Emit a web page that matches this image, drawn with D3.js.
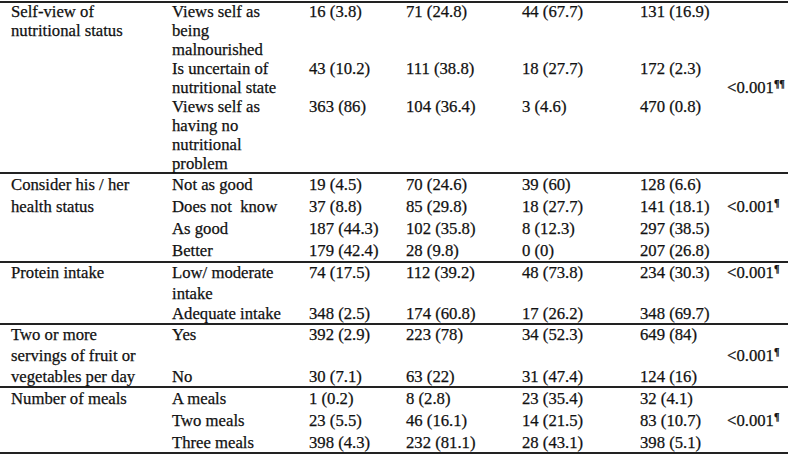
<!DOCTYPE html>
<html>
<head>
<meta charset="utf-8">
<script src="https://cdn.jsdelivr.net/npm/d3@7"></script>
<style>
    html, body { margin: 0; padding: 0; background: #fff; }
    svg { display: block; }
    text { font-family: "Liberation Serif", "Times New Roman", Tinos, "DejaVu Serif", serif; font-size: 16.7px; }
</style>
</head>
<body>
<svg id="chart"></svg>
<script>
const groups = [
    "Self-view of\nnutritional status",
    "Consider his / her\nhealth status",
    "Protein intake",
    "Two or more\nservings of fruit or\nvegetables per day",
    "Number of meals"
];
const rowLabels = [
    ["Views self as\nbeing\nmalnourished", "Is uncertain of\nnutritional state", "Views self as\nhaving no\nnutritional\nproblem"],
    ["Not as good", "Does not  know", "As good", "Better"],
    ["Low/ moderate\nintake", "Adequate intake"],
    ["Yes", "No"],
    ["A meals", "Two meals", "Three meals"]
];
const countsA = [16, 43, 363, 19, 37, 187, 179, 74, 348, 392, 30, 1, 23, 398];
const pctA = [3.8, 10.2, 86, 4.5, 8.8, 44.3, 42.4, 17.5, 2.5, 2.9, 7.1, 0.2, 5.5, 4.3];
const countsB = [71, 111, 104, 70, 85, 102, 28, 112, 174, 223, 63, 8, 46, 232];
const pctB = [24.8, 38.8, 36.4, 24.6, 29.8, 35.8, 9.8, 39.2, 60.8, 78, 22, 2.8, 16.1, 81.1];
const countsC = [44, 18, 3, 39, 18, 8, 0, 48, 17, 34, 31, 23, 14, 28];
const pctC = [67.7, 27.7, 4.6, 60, 27.7, 12.3, 0, 73.8, 26.2, 52.3, 47.4, 35.4, 21.5, 43.1];
const countsD = [131, 172, 470, 128, 141, 297, 207, 234, 348, 649, 124, 32, 83, 398];
const pctD = [16.9, 2.3, 0.8, 6.6, 18.1, 38.5, 26.8, 30.3, 69.7, 84, 16, 4.1, 10.7, 5.1];
const pValues = ["<0.001", "<0.001", "<0.001", "<0.001", "<0.001"];
const pMarks = ["\u00b6\u00b6", "\u00b6", "\u00b6", "\u00b6", "\u00b6"];

// layout
const width = 794, height = 456;
const ruleTop = [2, 173, 262, 324, 387, 453];
const pSlot = [4, 1, 0, 1, 1];
const baseOffset = 5.5;
const ink = "#111";

const series = [[countsA, pctA], [countsB, pctB], [countsC, pctC], [countsD, pctD]];

// work out which line slot each row starts on
let rowIndex = 0, slotStart = 0;
const cumSlots = [0];
const cells = [];
const groupCells = [];
groups.forEach((g, gi) => {
    const gLines = g.split("\n").length;
    const rows = rowLabels[gi];
    const rowLines = rows.map(r => r.split("\n").length);
    const used = d3.sum(rowLines);
    const slots = Math.max(gLines, used);
    let s = 0;
    rows.forEach((r, ri) => {
        let slot = s;
        if (ri === rows.length - 1 && slots > used) slot = slots - rowLines[ri];
        cells.push({gi: gi, row: rowIndex, slot: slotStart + slot, label: r});
        s += rowLines[ri];
        rowIndex++;
    });
    groupCells.push({gi: gi, slot: slotStart, label: g, p: pValues[gi], mark: pMarks[gi], pSlot: slotStart + pSlot[gi]});
    slotStart += slots;
    cumSlots.push(slotStart);
});

const yScale = d3.scaleLinear()
    .domain(cumSlots)
    .range(ruleTop);

const baseline = slot => yScale(slot + 0.5) + baseOffset;

const xScale = d3.scaleOrdinal()
    .domain(["group", "row", "a", "b", "c", "d", "p"])
    .range([11, 172, 309, 406, 522, 640, 727]);
const colKeys = ["a", "b", "c", "d"];

const svg = d3.select("#chart")
    .attr("width", width)
    .attr("height", height)
    .style("background", "#fff");

// horizontal rules
svg.append("g")
    .selectAll("line")
    .data(cumSlots)
    .enter().append("line")
    .attr("x1", 0)
    .attr("x2", 788)
    .attr("y1", d => yScale(d))
    .attr("y2", d => yScale(d))
    .attr("stroke", "#222")
    .attr("stroke-width", 2);

const textLayer = svg.append("g")
    .attr("fill", ink)
    .attr("stroke", ink)
    .attr("stroke-width", 0.25);

const multiline = (sel, x) => {
    sel.each(function(d) {
        const t = d3.select(this);
        d.label.split("\n").forEach((line, i) => {
            t.append("tspan")
                .attr("x", x)
                .attr("y", baseline(d.slot + i))
                .text(line);
        });
    });
};

textLayer.append("g")
    .selectAll("text")
    .data(groupCells)
    .enter().append("text")
    .style("white-space", "pre")
    .call(multiline, xScale("group"));

textLayer.append("g")
    .selectAll("text")
    .data(cells)
    .enter().append("text")
    .style("white-space", "pre")
    .call(multiline, xScale("row"));

// count (percent) columns
series.forEach((s, ci) => {
    textLayer.append("g")
        .selectAll("text")
        .data(cells)
        .enter().append("text")
        .attr("x", xScale(colKeys[ci]))
        .attr("y", d => baseline(d.slot))
        .text(d => s[0][d.row] + " (" + s[1][d.row] + ")");
});

// p values with footnote marks
const pText = textLayer.append("g")
    .selectAll("text")
    .data(groupCells)
    .enter().append("text")
    .attr("x", xScale("p"))
    .attr("y", d => baseline(d.pSlot));
pText.append("tspan").text(d => d.p);
pText.append("tspan")
    .attr("dy", -6)
    .style("font-size", "10px")
    .style("font-weight", "bold")
    .text(d => d.mark);
</script>
</body>
</html>
